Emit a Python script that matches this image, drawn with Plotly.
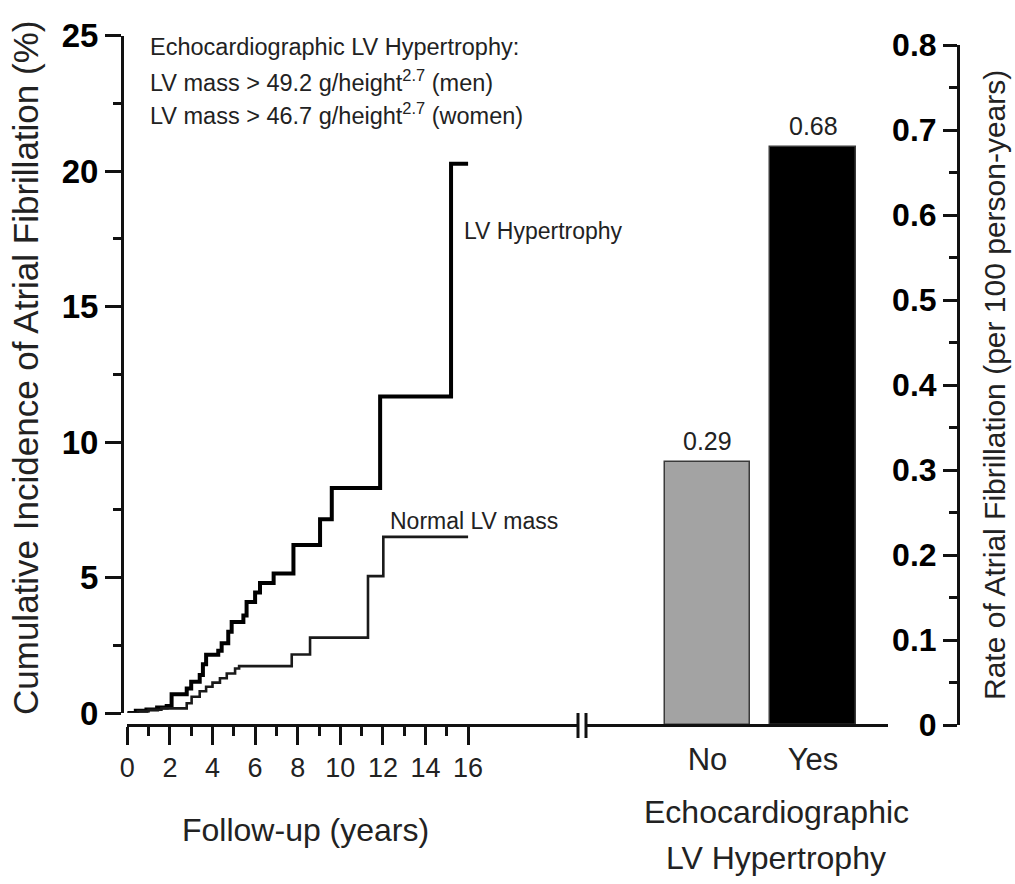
import plotly.graph_objects as go

# ---------------- data ----------------
# Cumulative incidence step curves (years, %)
lvh_years = [0, 0.4, 0.9, 1.4, 1.85, 2.08, 2.79, 3.0, 3.4, 3.55, 3.7, 4.27, 4.43, 4.74, 4.9,
             5.45, 5.6, 6.0, 6.23, 6.87, 7.8, 9.05, 9.6, 11.87, 15.2, 16.0]
lvh_incidence = [0, 0.08, 0.13, 0.2, 0.26, 0.69, 0.9, 1.15, 1.4, 1.8, 2.15, 2.3, 2.57, 3.0, 3.36,
                 3.6, 4.1, 4.45, 4.8, 5.15, 6.2, 7.15, 8.3, 11.68, 20.27, 20.27]

normal_years = [0, 0.5, 1.0, 1.6, 2.79, 3.02, 3.4, 3.7, 4.0, 4.35, 4.67, 5.06, 5.25,
                7.72, 8.58, 11.3, 12.02, 16.0]
normal_incidence = [0, 0.07, 0.12, 0.17, 0.36, 0.6, 0.8, 0.97, 1.12, 1.28, 1.46, 1.64, 1.73,
                    2.16, 2.78, 5.05, 6.5, 6.5]

# Rate bars (bar heights as drawn; printed labels as shown)
bar_categories = ["No", "Yes"]
bar_rates = [0.31, 0.68]
bar_labels = ["0.29", "0.68"]
bar_colors = ["#a3a3a3", "#000000"]

year_ticks = [0, 2, 4, 6, 8, 10, 12, 14, 16]
year_minor = [1, 3, 5, 7, 9, 11, 13, 15]
left_ticks = [0, 5, 10, 15, 20, 25]
left_minor = [2.5, 7.5, 12.5, 17.5, 22.5]
right_ticks = [0, 0.1, 0.2, 0.3, 0.4, 0.5, 0.6, 0.7, 0.8]
right_tick_text = ["0", "0.1", "0.2", "0.3", "0.4", "0.5", "0.6", "0.7", "0.8"]
right_minor = [0.05, 0.15, 0.25, 0.35, 0.45, 0.55, 0.65, 0.75]

# ---------------- layout helpers ----------------
W, H = 1015, 884
FONT = "Liberation Sans, Arial, Helvetica, sans-serif"
INK = "#111111"
TEXT = "#222222"


def fx(px):
    return px / W


def fy(py):
    return 1 - py / H


fig = go.Figure()

fig.add_trace(go.Scatter(x=lvh_years, y=lvh_incidence, mode="lines", line_shape="hv",
                         line=dict(color="#000000", width=4), xaxis="x", yaxis="y",
                         showlegend=False, hoverinfo="skip"))
fig.add_trace(go.Scatter(x=normal_years, y=normal_incidence, mode="lines", line_shape="hv",
                         line=dict(color="#1a1a1a", width=2.6), xaxis="x", yaxis="y",
                         showlegend=False, hoverinfo="skip"))

fig.add_trace(go.Bar(x=bar_categories, y=bar_rates, width=0.806,
                     marker=dict(color=bar_colors, line=dict(color="#3a3a3a", width=1.5)),
                     xaxis="x2", yaxis="y2", showlegend=False, hoverinfo="skip"))

# value labels above the bars
for cat, val, lab in zip(bar_categories, bar_rates, bar_labels):
    fig.add_annotation(text=lab, x=cat, y=val, xref="x2", yref="y2",
                       xanchor="center", yanchor="bottom", yshift=5, showarrow=False,
                       font=dict(family=FONT, size=25, color=TEXT))

axis_common = dict(showgrid=False, zeroline=False, showline=True, linecolor=INK, linewidth=3,
                   tickcolor=INK, tickwidth=2.5, ticks="outside", automargin=False)

fig.update_layout(
    template="none",
    width=W, height=H,
    margin=dict(l=0, r=0, t=0, b=0, pad=0),
    paper_bgcolor="white", plot_bgcolor="white",
    font=dict(family=FONT, color=INK),
    bargap=0,
    xaxis=dict(axis_common, domain=[fx(127.3), fx(578)], range=[0, 21.16],
               anchor="free", position=fy(725),
               tickmode="array", tickvals=year_ticks, ticklen=18,
               tickfont=dict(size=27, color=TEXT),
               minor=dict(tickmode="array", tickvals=year_minor, ticks="outside", ticklen=9,
                          tickwidth=2.5, tickcolor=INK, showgrid=False)),
    yaxis=dict(axis_common, domain=[fy(713), fy(35.5)], range=[0, 25],
               anchor="free", position=fx(122),
               tickmode="array", tickvals=left_ticks, ticklen=16,
               tickfont=dict(size=33, color="#000000", weight="bold"),
               minor=dict(tickmode="array", tickvals=left_minor, ticks="outside", ticklen=8,
                          tickwidth=2.5, tickcolor=INK, showgrid=False)),
    xaxis2=dict(axis_common, domain=[fx(586), fx(888)], range=[-1.152, 1.711],
                type="category", anchor="free", position=fy(725),
                ticklen=6, tickcolor="rgba(0,0,0,0)",
                tickfont=dict(size=31, color=TEXT)),
    yaxis2=dict(axis_common, domain=[fy(725), fy(45)], range=[0, 0.8],
                anchor="free", position=fx(958), side="left",
                tickmode="array", tickvals=right_ticks, ticktext=right_tick_text, ticklen=14,
                tickfont=dict(size=32, color="#000000", weight="bold"),
                minor=dict(tickmode="array", tickvals=right_minor, ticks="outside", ticklen=8,
                           tickwidth=2.5, tickcolor=INK, showgrid=False)),
)

# axis break marks
for bx in (578, 586):
    fig.add_shape(type="line", xref="paper", yref="paper",
                  x0=fx(bx), x1=fx(bx), y0=fy(713), y1=fy(738),
                  line=dict(color=INK, width=3))

annotations = [
    dict(text="Echocardiographic LV Hypertrophy:", x=fx(148), y=fy(47), size=23.5),
    dict(text="LV mass &gt; 49.2 g/height<sup>2.7</sup> (men)", x=fx(148), y=fy(81), size=23.5),
    dict(text="LV mass &gt; 46.7 g/height<sup>2.7</sup> (women)", x=fx(148), y=fy(114), size=23.5),
]
for a in annotations:
    fig.add_annotation(text=a["text"], x=a["x"], y=a["y"], xref="paper", yref="paper",
                       xanchor="left", yanchor="middle", showarrow=False,
                       font=dict(family=FONT, size=a["size"], color=TEXT))

# curve labels
fig.add_annotation(text="LV Hypertrophy", x=15.7, y=17.8, xref="x", yref="y",
                   xanchor="left", yanchor="middle", showarrow=False,
                   font=dict(family=FONT, size=23, color=TEXT))
fig.add_annotation(text="Normal LV mass", x=12.24, y=7.1, xref="x", yref="y",
                   xanchor="left", yanchor="middle", showarrow=False,
                   font=dict(family=FONT, size=23, color=TEXT))

# axis titles
fig.add_annotation(text="Cumulative Incidence of Atrial Fibrillation (%)", x=fx(25), y=fy(368),
                   xref="paper", yref="paper", textangle=-90, showarrow=False,
                   xanchor="center", yanchor="middle",
                   font=dict(family=FONT, size=35, color=TEXT))
fig.add_annotation(text="Rate of Atrial Fibrillation (per 100 person-years)", x=fx(994), y=fy(385),
                   xref="paper", yref="paper", textangle=-90, showarrow=False,
                   xanchor="center", yanchor="middle",
                   font=dict(family=FONT, size=30, color=TEXT))
fig.add_annotation(text="Follow-up (years)", x=fx(305), y=fy(830), xref="paper", yref="paper",
                   showarrow=False, xanchor="center", yanchor="middle",
                   font=dict(family=FONT, size=32, color=TEXT))
fig.add_annotation(text="Echocardiographic", x=fx(776), y=fy(812), xref="paper", yref="paper",
                   showarrow=False, xanchor="center", yanchor="middle",
                   font=dict(family=FONT, size=32, color=TEXT))
fig.add_annotation(text="LV Hypertrophy", x=fx(776), y=fy(858), xref="paper", yref="paper",
                   showarrow=False, xanchor="center", yanchor="middle",
                   font=dict(family=FONT, size=32, color=TEXT))

fig.write_html("out.html", config={"displayModeBar": False},
               post_script="document.body.style.margin='0';document.body.style.overflow='hidden';")
